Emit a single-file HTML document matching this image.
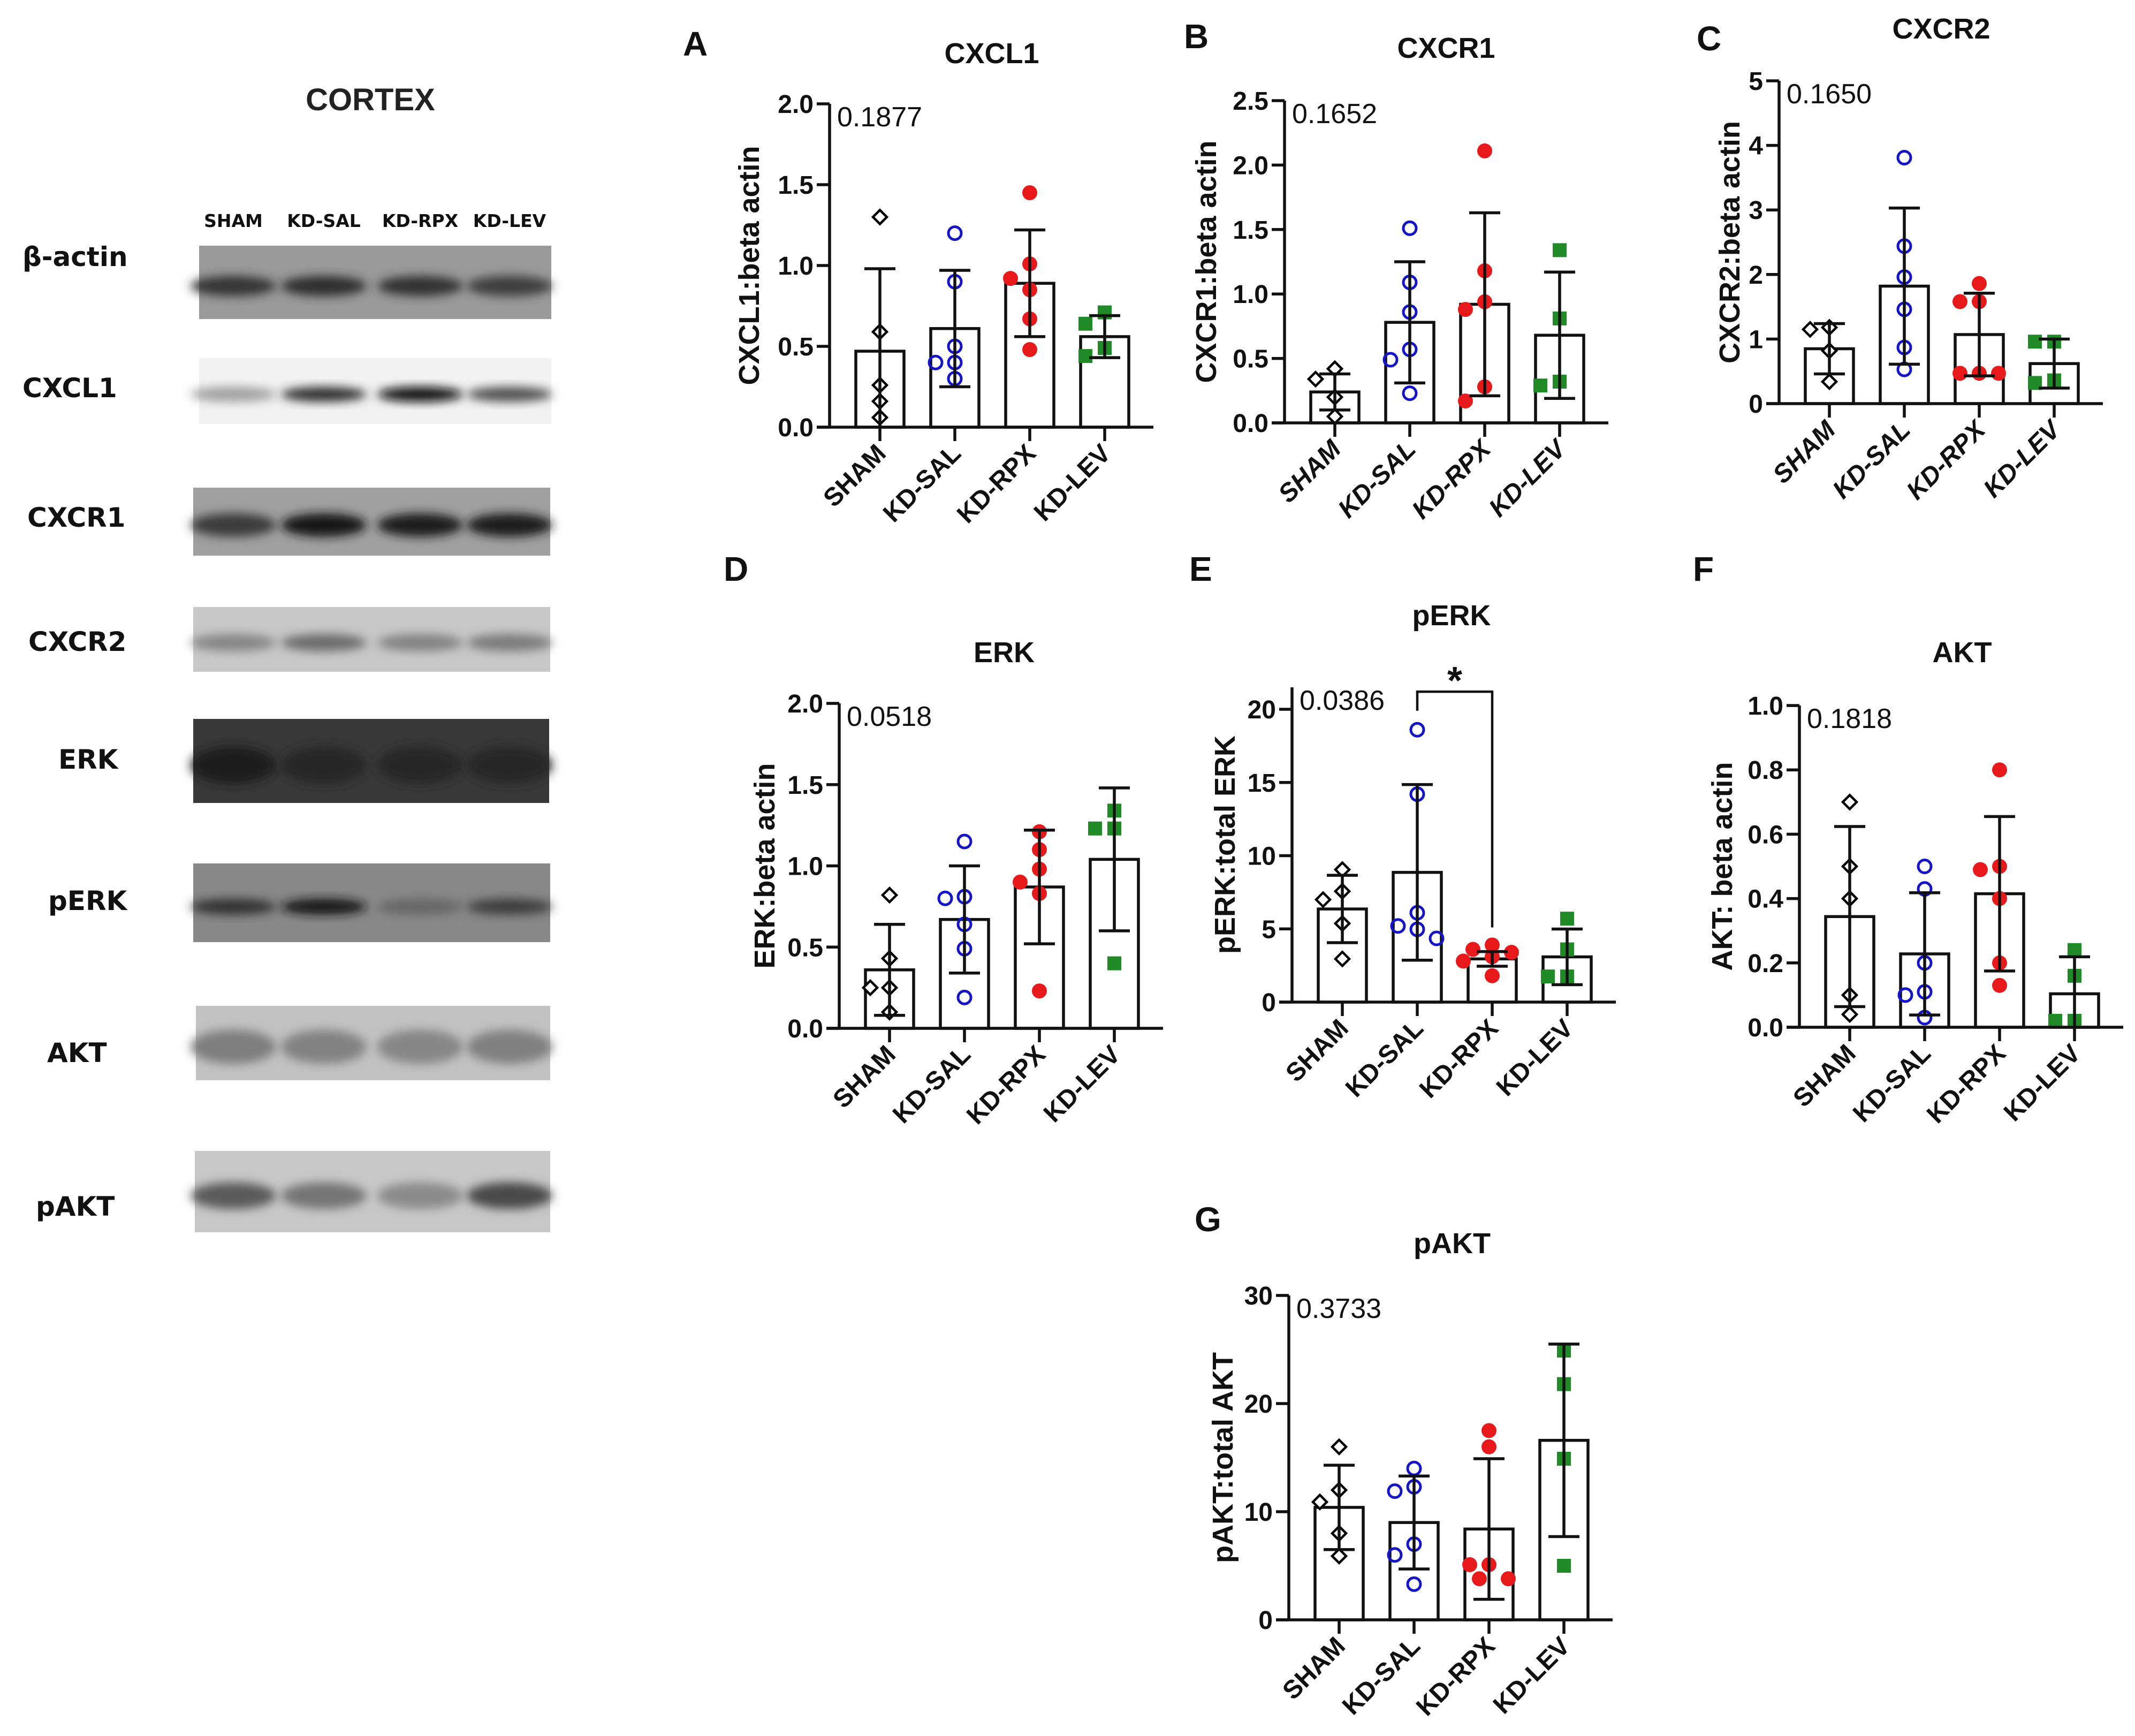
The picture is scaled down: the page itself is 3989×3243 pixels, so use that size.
<!DOCTYPE html>
<html><head><meta charset="utf-8"><style>
html,body{margin:0;padding:0;background:#fff;}
svg{display:block;font-family:"Liberation Sans",Arial,sans-serif;}
</style></head><body>
<svg id="fig" width="3989" height="3243" viewBox="0 0 3989 3243" xmlns="http://www.w3.org/2000/svg">
<defs>
<filter id="blur" x="-20%" y="-50%" width="140%" height="200%"><feGaussianBlur stdDeviation="9"/></filter>
</defs>
<rect width="3989" height="3243" fill="#fff"/>
<g id="blots">
<text x="692" y="206" text-anchor="middle" font-size="58" font-weight="bold" fill="#222">CORTEX</text>
<g font-size="33" font-weight="bold" fill="#111" text-anchor="middle" font-family="'DejaVu Sans',sans-serif">
<text x="436" y="424">SHAM</text>
<text x="605" y="424">KD-SAL</text>
<text x="785" y="424">KD-RPX</text>
<text x="952" y="424">KD-LEV</text>
</g>
</g>
<g id="charts"></g>
</svg>
<script>
const NS='http://www.w3.org/2000/svg';
const groups=['SHAM','KD-SAL','KD-RPX','KD-LEV'];

// ---------- Panel A: CXCL1 ----------
const cxcl1Means=[0.47,0.61,0.89,0.56];
const cxcl1Sds=[0.51,0.36,0.33,0.13];
const cxcl1Sham=[1.30,0.59,0.26,0.16,0.06];
const cxcl1Sal=[1.20,0.90,0.50,0.40,0.40,0.30];
const cxcl1Rpx=[1.45,1.01,0.92,0.85,0.67,0.48];
const cxcl1Lev=[0.71,0.64,0.49,0.44];
const cxcl1Ticks=[0,0.5,1.0,1.5,2.0];
// ---------- Panel B: CXCR1 ----------
const cxcr1Means=[0.24,0.78,0.92,0.68];
const cxcr1Sds=[0.14,0.47,0.71,0.49];
const cxcr1Sham=[0.42,0.34,0.20,0.05];
const cxcr1Sal=[1.51,1.09,0.86,0.57,0.49,0.23];
const cxcr1Rpx=[2.11,1.18,0.94,0.88,0.28,0.17];
const cxcr1Lev=[1.34,0.81,0.32,0.29];
const cxcr1Ticks=[0,0.5,1.0,1.5,2.0,2.5];
// ---------- Panel C: CXCR2 ----------
const cxcr2Means=[0.85,1.82,1.07,0.62];
const cxcr2Sds=[0.39,1.21,0.64,0.38];
const cxcr2Sham=[1.18,1.15,0.82,0.34];
const cxcr2Sal=[3.81,2.44,1.96,1.46,0.87,0.53];
const cxcr2Rpx=[1.86,1.58,1.58,0.47,0.47,0.47];
const cxcr2Lev=[0.96,0.96,0.36,0.32];
const cxcr2Ticks=[0,1,2,3,4,5];
// ---------- Panel D: ERK ----------
const erkMeans=[0.36,0.67,0.87,1.04];
const erkSds=[0.28,0.33,0.35,0.44];
const erkSham=[0.82,0.43,0.25,0.25,0.10];
const erkSal=[1.15,0.81,0.80,0.64,0.49,0.19];
const erkRpx=[1.21,1.10,0.98,0.90,0.83,0.23];
const erkLev=[1.34,1.23,1.23,0.40];
const erkTicks=[0,0.5,1.0,1.5,2.0];
// ---------- Panel E: pERK ----------
const perkMeans=[6.36,8.86,2.95,3.09];
const perkSds=[2.3,6.0,0.5,1.9];
const perkSham=[9.05,7.57,7.0,5.37,2.95];
const perkSal=[18.6,14.2,6.1,5.2,4.97,4.35];
const perkRpx=[3.9,3.6,3.4,3.1,2.8,1.8];
const perkLev=[5.7,3.6,1.75,1.75];
const perkTicks=[0,5,10,15,20];
// ---------- Panel F: AKT ----------
const aktMeans=[0.344,0.228,0.415,0.104];
const aktSds=[0.28,0.19,0.24,0.115];
const aktSham=[0.70,0.50,0.40,0.10,0.04];
const aktSal=[0.50,0.43,0.20,0.11,0.10,0.03];
const aktRpx=[0.80,0.50,0.49,0.40,0.20,0.13];
const aktLev=[0.24,0.16,0.02,0.02];
const aktTicks=[0,0.2,0.4,0.6,0.8,1.0];
// ---------- Panel G: pAKT ----------
const paktMeans=[10.4,9.0,8.4,16.6];
const paktSds=[3.9,4.3,6.5,8.9];
const paktSham=[16.0,12.0,10.9,8.0,5.9];
const paktSal=[14.0,12.3,11.9,7.0,6.0,3.3];
const paktRpx=[17.5,16.0,5.1,5.1,3.8,3.8];
const paktLev=[24.9,21.8,14.9,5.0];
const paktTicks=[0,10,20,30];

const root=document.getElementById('charts');
function el(tag,attrs,parent){const e=document.createElementNS(NS,tag);for(const k in attrs)e.setAttribute(k,attrs[k]);(parent||root).appendChild(e);return e;}

// ---------- Blots ----------
const blotLanes=[436,605,785,952];
const blotRows=[
 {name:'beta-actin',label:'β-actin',lx:42,ly:478,x:372,w:658,y:459,h:137,bg:'#9a9a9a',band:['#353535','#2e2e2e','#333','#3e3e3e'],bh:38},
 {name:'cxcl1',label:'CXCL1',lx:42,ly:723,x:372,w:658,y:669,h:123,bg:'#f2f2f2',band:['#a0a0a0','#2e2e2e','#0c0c0c','#505050'],bh:28},
 {name:'cxcr1',label:'CXCR1',lx:51,ly:965,x:361,w:667,y:911,h:127,bg:'#a0a0a0',band:['#3a3a3a','#141414','#1a1a1a','#1e1e1e'],bh:44},
 {name:'cxcr2',label:'CXCR2',lx:53,ly:1197,x:361,w:667,y:1134,h:121,bg:'#c8c8c8',band:['#858585','#6a6a6a','#828282','#7a7a7a'],bh:32},
 {name:'erk',label:'ERK',lx:109,ly:1417,x:361,w:665,y:1343,h:157,bg:'#383838',band:['#1e1e1e','#262626','#262626','#282828'],bh:70},
 {name:'perk',label:'pERK',lx:90,ly:1681,x:361,w:667,y:1613,h:147,bg:'#888',band:['#333','#141414','#666','#3e3e3e'],bh:30},
 {name:'akt',label:'AKT',lx:88,ly:1965,x:366,w:662,y:1879,h:139,bg:'#c2c2c2',band:['#7e7e7e','#828282','#868686','#808080'],bh:64},
 {name:'pakt',label:'pAKT',lx:67,ly:2252,x:364,w:664,y:2150,h:152,bg:'#c8c8c8',band:['#5a5a5a','#747474','#8a8a8a','#4a4a4a'],bh:50}
];
const blotG=document.getElementById('blots');
blotRows.forEach(r=>{
  const g=el('g',{},blotG);
  
  
  const t=el('text',{x:r.lx,y:r.ly+19,'font-size':50,'font-weight':'bold',fill:'#111','font-family':"'DejaVu Sans',sans-serif"},g);
  t.textContent=r.label;
  
  
  const bg=el('rect',{x:r.x,y:r.y,width:r.w,height:r.h,fill:r.bg},g);
  
  
  const cy=r.y+r.h*0.55;
  blotLanes.forEach((lx,i)=>{
    const b=el('ellipse',{cx:lx,cy:cy,rx:80,ry:r.bh/2,fill:r.band[i],filter:'url(#blur)'},g);
    
    
  });
});

// ---------- Charts ----------
const markerStyles=[
 {type:'diamond',stroke:'#000',fill:'#fff'},
 {type:'ocircle',stroke:'#1414c8',fill:'#fff'},
 {type:'fcircle',stroke:'#e8191a',fill:'#e8191a'},
 {type:'square',stroke:'#1f8a26',fill:'#1f8a26'}
];
function drawMarker(g,type,x,y,st){
  let m;
  if(type==='diamond'){m=el('path',{d:`M${x} ${y-13}L${x+13} ${y}L${x} ${y+13}L${x-13} ${y}Z`,fill:'#fff',stroke:st.stroke,'stroke-width':4.5},g);}
  else if(type==='ocircle'){m=el('circle',{cx:x,cy:y,r:12,fill:'none',stroke:st.stroke,'stroke-width':5},g);}
  else if(type==='fcircle'){m=el('circle',{cx:x,cy:y,r:14,fill:st.fill},g);}
  else {m=el('rect',{x:x-13,y:y-13,width:26,height:26,fill:st.fill},g);}
  return m;
}
function panel(cfg){
  const g=el('g',{});
  
  
  const L=605, off=94, sp=140, bw=90;
  const yMax=cfg.ticks[cfg.ticks.length-1];
  const ys=v=>cfg.zero-(v/yMax)*(cfg.zero-cfg.top);
  const xs=i=>cfg.ax+off+i*sp;
  const lt=el('text',{x:cfg.lx,y:cfg.ly,'font-size':64,'font-weight':'bold',fill:'#111'},g);
  lt.textContent=cfg.letter;
  
  
  const tt=el('text',{x:cfg.tx,y:cfg.ty,'font-size':54,'font-weight':'bold','text-anchor':'middle',fill:'#111'},g);
  tt.textContent=cfg.title;
  
  
  cfg.means.forEach((m,i)=>{
    const r=el('rect',{x:xs(i)-bw/2,y:ys(m),width:bw,height:cfg.zero-ys(m),fill:'#fff',stroke:'#111','stroke-width':5.5},g);
    
    
  });
  cfg.points.forEach((arr,i)=>{
    const placed=[];
    arr.forEach(v=>{
      const y=ys(v);
      const offs=[0,-36,36,-18,18,-54,54];
      let ox=0;
      for(const o of offs){ if(!placed.some(p=>Math.hypot(p[0]-o,p[1]-y)<28)){ox=o;break;} }
      placed.push([ox,y]);
      const mk=drawMarker(g,markerStyles[i].type,xs(i)+ox,y,markerStyles[i]);
      
      
    });
  });
  cfg.means.forEach((m,i)=>{
    const hi=m+cfg.sds[i], lo=Math.max(0,m-cfg.sds[i]);
    const eg=el('g',{stroke:'#111','stroke-width':5.5,fill:'none'},g);
    
    
    el('line',{x1:xs(i),x2:xs(i),y1:ys(hi),y2:ys(lo)},eg);
    el('line',{x1:xs(i)-29,x2:xs(i)+29,y1:ys(hi),y2:ys(hi)},eg);
    if(lo>0) el('line',{x1:xs(i)-29,x2:xs(i)+29,y1:ys(lo),y2:ys(lo)},eg);
  });
  const axTop=cfg.axisTopVal!==undefined?ys(cfg.axisTopVal):cfg.top;
  const ya=el('line',{x1:cfg.ax,x2:cfg.ax,y1:axTop,y2:cfg.zero+2.5,stroke:'#111','stroke-width':5.5},g);
  
  
  const xa=el('line',{x1:cfg.ax-24,x2:cfg.ax+L,y1:cfg.zero,y2:cfg.zero,stroke:'#111','stroke-width':5.5},g);
  
  
  cfg.ticks.forEach(t=>{
    const y=ys(t);
    el('line',{x1:cfg.ax-24,x2:cfg.ax,y1:y,y2:y,stroke:'#111','stroke-width':5.5},g);
    const tl=el('text',{x:cfg.ax-30,y:y+17,'font-size':48,'font-weight':'bold','text-anchor':'end',fill:'#111'},g);
    if(cfg.italic) tl.setAttribute('textLength',null);
    tl.textContent=t.toFixed(cfg.dec);
    
    
  });
  groups.forEach((gname,i)=>{
    el('line',{x1:xs(i),x2:xs(i),y1:cfg.zero,y2:cfg.zero+26,stroke:'#111','stroke-width':5.5},g);
    const x=xs(i)+14, y=cfg.zero+52;
    const xl=el('text',{x:x,y:y,'font-size':48,'font-weight':'bold','text-anchor':'end',fill:'#111',transform:`rotate(-45 ${x} ${y})`},g);
    if(cfg.italic) xl.setAttribute('font-style','italic');
    xl.textContent=gname;
    
    
  });
  const yc=(axTop+cfg.zero)/2, yx=cfg.ax-cfg.yto;
  const yt=el('text',{x:yx,y:yc,'font-size':54,'font-weight':'bold','text-anchor':'middle','dominant-baseline':'central',fill:'#111',transform:`rotate(-90 ${yx} ${yc})`},g);
  yt.textContent=cfg.ylabel;
  
  
  const pv=el('text',{x:cfg.ax+14,y:axTop+42,'font-size':52,fill:'#111'},g);
  pv.textContent=cfg.p;
  
  
  return {g,ys,xs};
}

panel({id:'cxcl1',letter:'A',lx:1276,ly:104,title:'CXCL1',tx:1853,ty:118,ax:1550,top:194,zero:798,ticks:cxcl1Ticks,dec:1,
  means:cxcl1Means,sds:cxcl1Sds,points:[cxcl1Sham,cxcl1Sal,cxcl1Rpx,cxcl1Lev],ylabel:'CXCL1:beta actin',yto:150,p:'0.1877'});
panel({id:'cxcr1',letter:'B',lx:2212,ly:90,title:'CXCR1',tx:2702,ty:108,ax:2400,top:188,zero:790,ticks:cxcr1Ticks,dec:1,italic:true,
  means:cxcr1Means,sds:cxcr1Sds,points:[cxcr1Sham,cxcr1Sal,cxcr1Rpx,cxcr1Lev],ylabel:'CXCR1:beta actin',yto:146,p:'0.1652'});
panel({id:'cxcr2',letter:'C',lx:3170,ly:94,title:'CXCR2',tx:3627,ty:72,ax:3324,top:151,zero:754,ticks:cxcr2Ticks,dec:0,italic:true,
  means:cxcr2Means,sds:cxcr2Sds,points:[cxcr2Sham,cxcr2Sal,cxcr2Rpx,cxcr2Lev],ylabel:'CXCR2:beta actin',yto:92,p:'0.1650'});
panel({id:'erk',letter:'D',lx:1352,ly:1085,title:'ERK',tx:1876,ty:1237,ax:1568,top:1314,zero:1921,ticks:erkTicks,dec:1,
  means:erkMeans,sds:erkSds,points:[erkSham,erkSal,erkRpx,erkLev],ylabel:'ERK:beta actin',yto:139,p:'0.0518'});
const E=panel({id:'perk',letter:'E',lx:2222,ly:1085,title:'pERK',tx:2712,ty:1168,ax:2414,top:1325,zero:1872,ticks:perkTicks,dec:0,axisTopVal:21.5,
  means:perkMeans,sds:perkSds,points:[perkSham,perkSal,perkRpx,perkLev],ylabel:'pERK:total ERK',yto:125,p:'0.0386'});
panel({id:'akt',letter:'F',lx:3163,ly:1085,title:'AKT',tx:3666,ty:1237,ax:3362,top:1318,zero:1919,ticks:aktTicks,dec:1,
  means:aktMeans,sds:aktSds,points:[aktSham,aktSal,aktRpx,aktLev],ylabel:'AKT: beta actin',yto:144,p:'0.1818'});
panel({id:'pakt',letter:'G',lx:2232,ly:2300,title:'pAKT',tx:2713,ty:2341,ax:2408,top:2420,zero:3026,ticks:paktTicks,dec:0,
  means:paktMeans,sds:paktSds,points:[paktSham,paktSal,paktRpx,paktLev],ylabel:'pAKT:total AKT',yto:123,p:'0.3733'});

const sigPair=[1,2];
const sigLevels=[21.2,19.9,5.1];
const br=el('path',{d:`M${E.xs(sigPair[0])} ${E.ys(sigLevels[1])}V${E.ys(sigLevels[0])}H${E.xs(sigPair[1])}V${E.ys(sigLevels[2])}`,fill:'none',stroke:'#111','stroke-width':4.5},E.g);


const star=el('text',{x:(E.xs(sigPair[0])+E.xs(sigPair[1]))/2,y:E.ys(sigLevels[0])+4,'font-size':72,'font-weight':'bold','text-anchor':'middle',fill:'#111'},E.g);
star.textContent='*';


</script>
</body></html>
